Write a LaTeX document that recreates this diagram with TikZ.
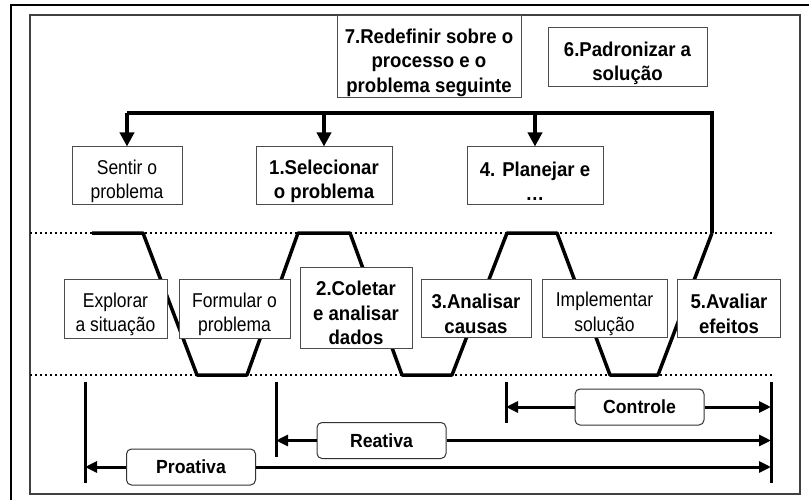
\documentclass[tikz,border=0pt]{standalone}
\usepackage{fontspec}
\setmainfont{Liberation Sans}
\newfontfamily\narrowsans[FakeStretch=0.875]{Liberation Sans}
\newfontfamily\narrowbold[FakeStretch=0.93]{Liberation Sans}
\usetikzlibrary{arrows.meta}
\newcommand\lowstrut{\rule{0pt}{26pt}}
\tikzset{
  stepbox/.style={draw=black!70, line width=1pt, fill=white, inner sep=0pt, align=center,
    font=\narrowsans\fontsize{20}{24.5}\selectfont},
  numbox/.style={stepbox, font=\narrowbold\fontsize{20}{24.5}\selectfont\bfseries},
  tagbox/.style={draw=black!80, line width=1pt, fill=white, rounded corners=5pt, inner sep=0pt,
    minimum width=129, minimum height=36, font=\narrowbold\fontsize{19}{22}\selectfont\bfseries},
  fb/.style={line width=4pt, -{Triangle[length=14pt,width=14pt]}},
  arr/.style={line width=3pt, -{Triangle[length=12pt,width=11pt]}},
  bar/.style={line width=3pt},
  level/.style={line width=2pt, dash pattern=on 2pt off 3pt}
}
\begin{document}
\begin{tikzpicture}[x=1pt,y=-1pt]
\useasboundingbox (0,0) rectangle (809,500);
% frames
\draw[line width=2.5pt] (11,510) -- (11,5) -- (815,5);
\draw[black!75, line width=1.5pt] (30,15) rectangle (800,494);
% levels
\draw[level] (30,233) -- (773,233);
\draw[level] (30,375) -- (773,375);
% wave
\draw[line width=3.5pt, line join=round] (92,233) -- (143,233) -- (197,375) -- (247,375)
  -- (298,233) -- (350,233) -- (402,375) -- (452,375) -- (507,233) -- (557,233)
  -- (610,375) -- (658,375) -- (712,233) coordinate (w);
% steps
\node[numbox, minimum width=184, minimum height=82] (redefinir) at (429,57) {\lowstrut 7.Redefinir sobre o\\processo e o\\problema seguinte};
\node[numbox, minimum width=159, minimum height=59] (padronizar) at (627.5,57.5) {\lowstrut 6.Padronizar a\\solução};
\node[stepbox, minimum width=110, minimum height=57] (sentir) at (127,175.5) {\lowstrut Sentir o\\problema};
\node[numbox, minimum width=136, minimum height=57] (selecionar) at (324,175.5) {\lowstrut 1.Selecionar\\o problema};
\node[numbox, minimum width=136, minimum height=57] (planejar) at (535,175.5) {\lowstrut 4. Planejar e\\…};
\node[stepbox, minimum width=103, minimum height=59] (explorar) at (115.5,308.5) {\lowstrut Explorar\\a situação};
\node[stepbox, minimum width=111, minimum height=59] (formular) at (234.5,308.5) {\lowstrut Formular o\\problema};
\node[numbox, minimum width=112, minimum height=81] (coletar) at (356,307.5) {\lowstrut 2.Coletar\\e analisar\\dados};
\node[numbox, minimum width=110, minimum height=58] (causas) at (476,308) {\lowstrut 3.Analisar\\causas};
\node[stepbox, minimum width=125, minimum height=58] (implementar) at (604.5,308) {\lowstrut Implementar\\solução};
\node[numbox, minimum width=103, minimum height=58] (avaliar) at (729,308) {\lowstrut 5.Avaliar\\efeitos};
% feedback
\coordinate (top) at (712,113);
\draw[line width=4pt] (w) -- (top) -- (top -| sentir.north);
\draw[fb] (top -| sentir.north) -- (sentir.north);
\draw[fb] (top -| selecionar.north) -- (selecionar.north);
\draw[fb] (top -| planejar.north) -- (planejar.north);
% bars
\draw[bar] (85,382) coordinate (b1) -- (85,483);
\draw[bar] (276,382) coordinate (b2) -- (276,457);
\draw[bar] (506,382) coordinate (b3) -- (506,423);
\draw[bar] (771,382) coordinate (b4) -- (771,483);
% ranges
\node[tagbox] (controle) at (639.5,407) {Controle};
\node[tagbox] (reativa) at (381.5,440.5) {Reativa};
\node[tagbox] (proativa) at (191,467) {Proativa};
\draw[arr] (controle.west) -- (controle.west -| b3);
\draw[arr] (controle.east) -- (controle.east -| b4);
\draw[arr] (reativa.west) -- (reativa.west -| b2);
\draw[arr] (reativa.east) -- (reativa.east -| b4);
\draw[arr] (proativa.west) -- (proativa.west -| b1);
\draw[arr] (proativa.east) -- (proativa.east -| b4);
\end{tikzpicture}
\end{document}
